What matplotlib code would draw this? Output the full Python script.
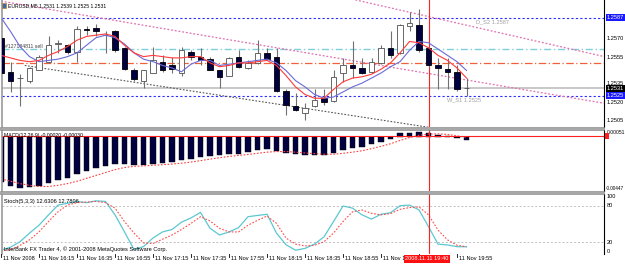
import matplotlib
matplotlib.use("Agg")
import matplotlib.pyplot as plt
from matplotlib.patches import Rectangle

W, H = 625, 265
FONT = "Liberation Sans"
FS = 4.1      # general small text
FS_HDR = 3.7  # indicator / symbol headers
FS_AX = 4.1   # right price scale

# ---- data (EURUSD M5, 11 Nov 2008, 15:55 .. 20:00) ----
opens = [1.2571, 1.2544, 1.2539, 1.2537, 1.2545, 1.2552, 1.2566, 1.2565, 1.2560, 1.2578,
         1.2579, 1.2573, 1.2576, 1.2563, 1.2545, 1.2537, 1.2543, 1.2552, 1.2549, 1.2543,
         1.2560, 1.2556, 1.2554, 1.2545, 1.2541, 1.2556, 1.2547, 1.2551, 1.2559, 1.2556,
         1.2529, 1.2517, 1.2511, 1.2517, 1.2523, 1.2521, 1.2543, 1.2549, 1.2547, 1.2544,
         1.2551, 1.2563, 1.2559, 1.2580, 1.2581, 1.2563, 1.2549, 1.2546, 1.2544, 1.2531]
highs = [1.2572, 1.2552, 1.2542, 1.2548, 1.2557, 1.2572, 1.2569, 1.2566, 1.2580, 1.2580,
         1.2582, 1.2576, 1.2577, 1.2564, 1.2547, 1.2545, 1.2564, 1.2557, 1.2556, 1.2564,
         1.2561, 1.2563, 1.2556, 1.2545, 1.2556, 1.2561, 1.2553, 1.2569, 1.2563, 1.2563,
         1.2530, 1.2527, 1.2519, 1.2530, 1.2530, 1.2545, 1.2555, 1.2568, 1.2555, 1.2555,
         1.2565, 1.2576, 1.2582, 1.2591, 1.2594, 1.2564, 1.2555, 1.2555, 1.2549, 1.2539]
lows = [1.2542, 1.2528, 1.2517, 1.2535, 1.2545, 1.2551, 1.2559, 1.2558, 1.2552, 1.2573,
        1.2572, 1.2559, 1.2560, 1.2545, 1.2537, 1.2531, 1.2543, 1.2544, 1.2543, 1.2541,
        1.2553, 1.2549, 1.2545, 1.2531, 1.2541, 1.2547, 1.2546, 1.2550, 1.2553, 1.2528,
        1.2510, 1.2513, 1.2506, 1.2516, 1.2518, 1.2520, 1.2536, 1.2539, 1.2542, 1.2543,
        1.2550, 1.2555, 1.2558, 1.2576, 1.2560, 1.2548, 1.2530, 1.2530, 1.2529, 1.2525]
closes = [1.2543, 1.2537, 1.2539, 1.2547, 1.2556, 1.2565, 1.2567, 1.2560, 1.2578, 1.2577,
          1.2576, 1.2573, 1.2561, 1.2546, 1.2538, 1.2545, 1.2553, 1.2545, 1.2546, 1.2561,
          1.2556, 1.2553, 1.2545, 1.2540, 1.2555, 1.2548, 1.2551, 1.2559, 1.2554, 1.2529,
          1.2518, 1.2514, 1.2515, 1.2522, 1.2520, 1.2540, 1.2549, 1.2547, 1.2543, 1.2552,
          1.2563, 1.2557, 1.2581, 1.2583, 1.2561, 1.2549, 1.2547, 1.2544, 1.2530, 1.2531]

ma_red = [1.2557, 1.2555, 1.2553, 1.2552, 1.2553, 1.2557, 1.2560, 1.2564, 1.2569, 1.2572,
          1.2573, 1.2574, 1.2572, 1.2565, 1.2559, 1.2556, 1.2557, 1.2556, 1.2555, 1.2555,
          1.2556, 1.2556, 1.2551, 1.2548, 1.2549, 1.2551, 1.2551, 1.2552, 1.2553, 1.2549,
          1.2541, 1.2532, 1.2526, 1.2523, 1.2523, 1.2530, 1.2536, 1.2539, 1.2540, 1.2542,
          1.2546, 1.2551, 1.2559, 1.2568, 1.2567, 1.2563, 1.2557, 1.2553, 1.2547, 1.2539]
ma_blue = [1.2587, 1.2576, 1.2564, 1.2556, 1.2552, 1.2553, 1.2554, 1.2556, 1.2559, 1.2565,
           1.2571, 1.2573, 1.2571, 1.2566, 1.2559, 1.2554, 1.2552, 1.2549, 1.2547, 1.2544,
           1.2550, 1.2553, 1.2553, 1.2549, 1.2550, 1.2551, 1.2552, 1.2553, 1.2554, 1.2551,
           1.2545, 1.2537, 1.2532, 1.2526, 1.2523, 1.2524, 1.2528, 1.2532, 1.2535, 1.2539,
           1.2543, 1.2548, 1.2552, 1.2561, 1.2568, 1.2567, 1.2562, 1.2557, 1.2552, 1.2545]

macd_main = [-0.00388, -0.00422, -0.00439, -0.00430, -0.00422, -0.00397, -0.00371, -0.00355,
             -0.00321, -0.00295, -0.00270, -0.00251, -0.00231, -0.00236, -0.00242, -0.00242,
             -0.00231, -0.00222, -0.00217, -0.00200, -0.00186, -0.00172, -0.00160, -0.00155,
             -0.00146, -0.00143, -0.00132, -0.00115, -0.00104, -0.00118, -0.00138, -0.00146,
             -0.00152, -0.00155, -0.00152, -0.00138, -0.00110, -0.00096, -0.00082, -0.00062,
             -0.00039, -0.00020, 0.00031, 0.00037, 0.00040, 0.00031, 0.00020, 0.00005,
             -0.00012, -0.00025]
macd_signal = [-0.00360, -0.00380, -0.00400, -0.00415, -0.00425, -0.00425, -0.00415, -0.00400,
               -0.00380, -0.00355, -0.00330, -0.00305, -0.00280, -0.00262, -0.00252, -0.00248,
               -0.00243, -0.00238, -0.00232, -0.00225, -0.00215, -0.00203, -0.00190, -0.00178,
               -0.00167, -0.00158, -0.00150, -0.00140, -0.00130, -0.00125, -0.00125, -0.00130,
               -0.00137, -0.00143, -0.00148, -0.00148, -0.00140, -0.00130, -0.00118, -0.00100,
               -0.00080, -0.00058, -0.00030, -0.00005, 0.00015, 0.00025, 0.00027, 0.00022,
               0.00010, -0.00003]

stoch_k = [7, 12, 21, 35, 48, 65, 81, 84, 87, 85, 88, 87, 65, 37, 8, 13, 27, 37, 41, 53,
           60, 69, 43, 32, 37, 44, 62, 64, 66, 35, 16, 7, 10, 17, 29, 54, 79.5, 76, 65, 58,
           66, 68.5, 80, 81, 73, 45.6, 17, 15.6, 12.8, 12.63]
stoch_d = [6, 8, 15, 24, 37, 54, 70, 81, 85, 86, 87, 85, 76, 54, 35, 19, 18, 25, 32, 41,
           51, 62, 55, 43, 37, 37, 48, 56, 63, 51, 27, 17, 14, 15, 21, 35, 54, 70, 73, 67.5,
           65, 67, 74, 77, 78, 65, 40, 24, 15, 12.78]

time_labels = ["11 Nov 2008", "11 Nov 16:15", "11 Nov 16:35", "11 Nov 16:55", "11 Nov 17:15",
               "11 Nov 17:35", "11 Nov 17:55", "11 Nov 18:15", "11 Nov 18:35", "11 Nov 18:55",
               "11 Nov 19:15", "11 Nov 19:35", "11 Nov 19:55"]
price_ticks = [1.2570, 1.2555, 1.2535, 1.2520, 1.2505]
levels = {"D_S2": 1.2587, "W_S1": 1.2525}
order_price = 1.2562
pivot_price = 1.2551
bid = 1.2531
# trend lines as (bar, price) anchors
trend_a = [(0.0, 1.2600), (63.5, 1.2519)]
trend_b = [(37.3, 1.2601), (63.5, 1.2556)]
trend_c = [(2.5, 1.2549), (45.0, 1.2500)]
cursor_bar = 45
cursor_label = "2008.11.11 19:40"

n = len(closes)
xs = list(range(n))


def rect(x0, y0, x1, y1):
    return [x0 / W, 1 - y1 / H, (x1 - x0) / W, (y1 - y0) / H]


fig = plt.figure(figsize=(W / 100, H / 100), dpi=100)
fig.patch.set_facecolor("white")

ax1 = fig.add_axes(rect(2, 0, 604, 127))
ax2 = fig.add_axes(rect(2, 130, 604, 191))
ax3 = fig.add_axes(rect(2, 194, 604, 254))
for ax in (ax1, ax2, ax3):
    ax.set_xlim(0.105, 63.47)
    ax.set_xticks([])
    ax.set_yticks([])
    for s in ax.spines.values():
        s.set_visible(False)
    ax.spines["right"].set_visible(True)
    ax.spines["right"].set_color("#000000")
    ax.spines["right"].set_linewidth(0.8)
    ax.spines["left"].set_visible(True)
    ax.spines["left"].set_color("#9a9a9a")
    ax.spines["left"].set_linewidth(1.2)

ax1.set_ylim(1.25002, 1.26009)
ax2.set_ylim(-0.004636, 0.000601)
ax3.set_ylim(0.8, 99.2)

# panel separators
for y in (127, 191):
    fig.add_artist(Rectangle((0, 1 - (y + 3) / H), 604 / W, 3 / H, transform=fig.transFigure,
                             fc="#a8a8a8", ec="#808080", lw=0.4))

# ---- main price panel ----
for lvl in levels.values():
    ax1.axhline(lvl, color="#2b2bff", lw=0.8, ls=(0, (2, 2)))
ax1.axhline(order_price, color="#7fd0dc", lw=1.0, ls=(0, (5, 2, 1, 2)))
ax1.axhline(pivot_price, color="#f0603a", lw=0.9, ls=(0, (6, 2, 1, 2)))
ax1.axhline(bid, color="#c8c8c8", lw=1.4)
for (xa, ya), (xb, yb) in (trend_a, trend_b):
    ax1.plot([xa, xb], [ya, yb], color="#e070b0", lw=0.9, ls=(0, (1.5, 1.5)))
ax1.plot([p[0] for p in trend_c], [p[1] for p in trend_c], color="#555555", lw=0.8,
         ls=(0, (1.5, 1.5)))

ax1.vlines(xs, lows, highs, color="#707070", lw=0.8, zorder=3)
for i in xs:
    o, c = opens[i], closes[i]
    bull = c >= o
    ax1.bar(i, abs(c - o), bottom=min(o, c), width=0.55,
            color="white" if bull else "#000040",
            edgecolor="#505050" if bull else "#000000", lw=0.6, zorder=4)
ax1.plot(xs, ma_blue, color="#6a6ad8", lw=0.8, zorder=5)
ax1.plot(xs, ma_red, color="#ff3a3a", lw=0.8, zorder=5)

ax1.text(50.0, 1.25855, "D_S2 1.2587", color="#a0a0a0", fontsize=FS, family=FONT, va="top")
ax1.text(46.9, 1.25235, "W_S1 1.2525", color="#a0a0a0", fontsize=FS, family=FONT, va="top")
ax1.text(0.4, order_price + 0.00004, "#127184811 sell", color="#404040", fontsize=FS_HDR,
         family=FONT, va="bottom")
fig.add_artist(Rectangle((2 / W, 1 - 8 / H), 4 / W, 5 / H, transform=fig.transFigure,
                         fc="#3a6ea5", ec="#c08030", lw=0.5))
fig.text(8 / W, 1 - 6 / H, "EURUSD,M5 1.2531 1.2539 1.2525 1.2531", fontsize=FS_HDR,
         family=FONT, va="center")

ytr = ax1.get_yaxis_transform()
for p in price_ticks:
    ax1.text(1.004, p, f"{p:.4f}", transform=ytr, fontsize=FS_AX, family=FONT, va="center",
             clip_on=False)
for p, fc in ((1.2587, "#1a1aff"), (bid, "#000000"), (1.2525, "#1a1aff")):
    ax1.text(1.004, p, f"{p:.4f}", transform=ytr, fontsize=FS_AX, family=FONT, va="center",
             color="white", clip_on=False,
             bbox=dict(boxstyle="square,pad=0.15", fc=fc, ec="none"))

# ---- MACD panel ----
ax2.bar(xs, macd_main, width=0.6, color="#000040", edgecolor="#000000", lw=0.3)
ax2.plot(xs, macd_signal, color="#ff4040", lw=0.8, ls=(0, (1.5, 1.5)))
ax2.axhline(0.00008, color="#ff2020", lw=0.8)
fig.text(4 / W, 1 - 136 / H, "MACD(12,26,9) -0.00020 -0.00030", fontsize=FS_HDR, family=FONT,
         va="center")
ytr2 = ax2.get_yaxis_transform()
ax2.text(1.004, 0.00040, "0.00051", transform=ytr2, fontsize=3.6, family=FONT,
         va="center", clip_on=False)
ax2.text(1.003, -0.00440, "-0.00447", transform=ytr2, fontsize=3.3, family=FONT,
         va="center", clip_on=False)
fig.add_artist(Rectangle((605 / W, 1 - 139 / H), 4 / W, 6 / H, transform=fig.transFigure,
                         fc="#ff2020", ec="none"))

# ---- Stochastic panel ----
for lv in (20, 80):
    ax3.axhline(lv, color="#c0c0c0", lw=0.7, ls=(0, (2, 2)))
ax3.plot(xs, stoch_k, color="#5cc8d2", lw=0.9)
ax3.plot(xs, stoch_d, color="#ff4a4a", lw=0.8, ls=(0, (1.5, 1.5)))
fig.text(4 / W, 1 - 201 / H, "Stoch(5,3,3) 12.6306 12.7806", fontsize=FS, family=FONT,
         va="center")
fig.text(4 / W, 1 - 249 / H, "InterBank FX Trader 4, \u00a9 2001-2008 MetaQuotes Software Corp.",
         fontsize=FS, family=FONT, va="center")
ytr3 = ax3.get_yaxis_transform()
for lab, v in (("100", 95), ("80", 81), ("20", 20), ("0", 5)):
    ax3.text(1.004, v, lab, transform=ytr3, fontsize=FS_AX, family=FONT, va="center",
             clip_on=False)

# crosshair
for ax in (ax1, ax2, ax3):
    ax.axvline(cursor_bar, color="#ff2020", lw=0.8)

# time axis (labels hidden behind the cursor box are not drawn, as in the terminal)
box_x0, box_x1 = 404, 451
for k, lab in enumerate(time_labels):
    xp = 1 + 9.5 * 4 * k
    fig.add_artist(plt.Line2D([xp / W, xp / W], [1 - 254 / H, 1 - 257 / H],
                              transform=fig.transFigure, color="black", lw=0.6))
    if box_x0 - 4 <= xp + 2 <= box_x1:
        continue
    fig.text((xp + 2) / W, 1 - 259 / H, lab, fontsize=FS, family=FONT, va="center",
             zorder=1)
fig.text(427 / W, 1 - 259 / H, cursor_label, fontsize=FS, family=FONT, va="center",
         ha="center", color="white", zorder=5,
         bbox=dict(boxstyle="square,pad=0.25", fc="#ff1010", ec="none"))

fig.savefig("out.png", dpi=100, facecolor="white")
